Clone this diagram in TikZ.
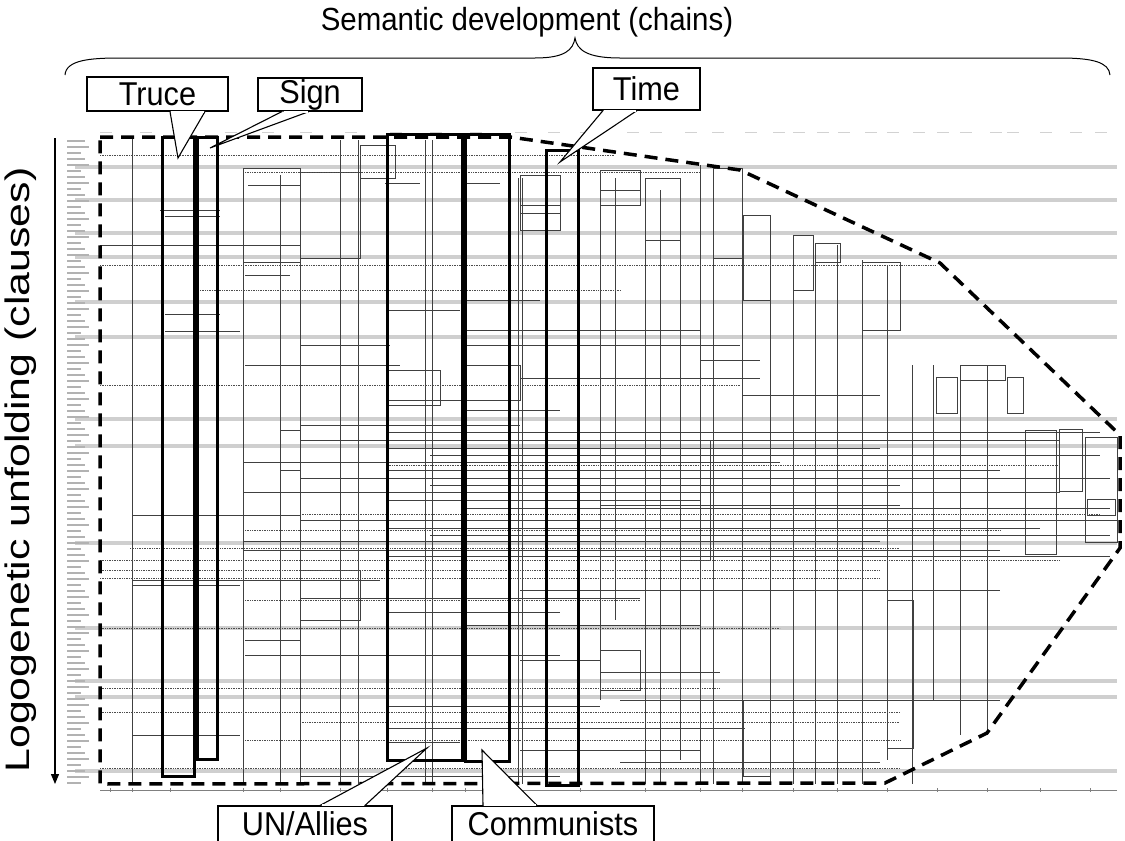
\documentclass[tikz,border=0pt]{standalone}
\usepackage{fontspec}
\setmainfont{Liberation Sans}
\usetikzlibrary{arrows.meta}

\begin{document}
\begin{tikzpicture}[x=1pt, y=-1pt]
  \tikzstyle{band}=[gray!38, line width=4.5pt]
  \tikzstyle{rowtag}=[gray!60, line width=1.3pt]
  \tikzstyle{headtag}=[gray!35, line width=1pt]
  \tikzstyle{chainline}=[black!75, line width=0.5pt]
  \tikzstyle{link}=[black!70, line width=0.7pt, densely dotted]
  \tikzstyle{focusbox}=[line width=3pt]
  \tikzstyle{hull}=[line width=3.5pt, dash pattern=on 13pt off 8pt]
  \tikzstyle{tag}=[draw, line width=1.1pt, fill=white, inner sep=0pt,
    font=\fontsize{33}{38}\selectfont]
  \tikzstyle{pointer}=[fill=white, line width=1.1pt, line join=miter]
  \useasboundingbox (0,0) rectangle (1125,841);

  % the chain chart
  \foreach \y in {167,200,233,257,302,337,419,446,543,628,681,697,771}
    \draw[band] (75,\y) -- (1117,\y);
  \foreach \y [count=\i] in {141,147,...,783}
    \draw[rowtag] (67,\y) -- +({14+mod(\i,3)*4},0);
  \foreach \x in {100,140,180,225,262,300,345,390,430,470,515,548,580,
      627,650,685,712,745,773,793,817,838,865,887,913,937,960,990,1007,1040,1070,1095}
    \draw[headtag] (\x,132) -- +(12,0);
  \foreach \x/\t/\b in {132/137/784, 243/168/784, 280/175/784, 300/245/784,
      340/140/784, 358/140/784, 425/140/784, 432/140/784, 518/178/784,
      522/178/784, 600/170/700, 615/178/620, 645/178/784, 660/190/784,
      680/195/760, 700/165/784, 713/168/784, 742/170/784, 770/235/784,
      793/235/784, 815/245/784, 837/245/784, 862/260/784, 887/265/760,
      912/365/784, 933/365/700, 960/365/735, 987/365/735}
    \draw[chainline] (\x,\t) -- (\x,\b);
  \foreach \xa/\ya/\xb/\yb in {243/168/300/262, 300/172/360/258, 360/145/395/178,
      300/570/360/620, 387/370/440/405, 465/365/520/400, 520/175/560/230,
      600/170/640/205, 645/178/680/240, 713/168/742/258, 743/215/770/300,
      793/235/813/290, 815/243/840/262, 862/262/900/330, 936/377/957/413,
      960/365/1005/380, 1007/377/1023/413, 1025/430/1056/554, 1059/429/1082/491,
      1085/437/1117/542, 1087/499/1115/515, 680/440/710/560, 887/600/913/748,
      743/700/770/776, 280/430/300/470, 600/650/640/690}
    \draw[chainline] (\xa,\ya) rectangle (\xb,\yb);
  \foreach \xa/\xb/\y in {248/300/185, 385/420/183, 465/500/183, 160/220/210,
      165/220/216, 520/560/205, 520/560/213, 600/640/190, 100/300/245,
      245/290/275, 465/540/300, 387/460/310, 165/220/314, 165/240/331,
      300/390/345, 245/400/365, 465/700/330, 465/740/345, 700/760/360,
      743/880/395, 387/520/400, 465/560/410, 387/1100/432, 300/1060/440,
      387/880/448, 430/1100/455, 243/780/462, 387/1000/470, 300/1110/478,
      430/900/485, 243/1060/492, 387/700/500, 465/1110/508, 132/300/515,
      300/960/520, 387/1040/528, 430/1110/535, 243/880/541, 243/1000/550,
      387/1110/556, 132/240/585, 300/640/598, 387/560/612, 465/700/625,
      245/300/640, 520/600/660, 600/720/672, 387/600/706, 132/240/735,
      387/460/742, 520/700/750, 620/880/762, 300/560/776, 960/1117/520,
      520/760/378, 300/520/425, 600/900/505, 132/380/580, 520/1000/590,
      245/560/655, 620/1000/700, 387/745/728}
    \draw[chainline] (\xa,\y) -- (\xb,\y);
  \foreach \xa/\xb/\y in {100/615/155, 245/700/172, 100/935/265, 200/620/290,
      100/740/385, 100/1060/560, 100/880/570, 130/900/548, 100/780/628,
      100/720/688, 100/900/712, 300/900/722, 100/900/768, 245/640/600,
      387/1060/465, 300/1100/514, 245/1000/530, 100/880/578, 245/900/740}
    \draw[link] (\xa,\y) -- (\xb,\y);
  \draw[chainline, gray] (100,790) -- (1117,790);
  \foreach \x in {110,132,170,243,280,340,387,432,465,518,580,645,700,742,
      793,837,887,937,987,1040,1090}
    \draw[chainline, gray] (\x,788) -- (\x,792);

  % highlighted chains
  \draw[focusbox] (162,137) rectangle (194,776);
  \draw[focusbox] (197,137) rectangle (217,759);
  \draw[focusbox] (387,134) rectangle (462,760);
  \draw[focusbox] (465,134) rectangle (509,761);
  \draw[focusbox] (546,150) rectangle (578,785);
  \draw[hull] (100,137) -- (510,137) -- (740,170) -- (940,263) -- (1120,435)
    -- (1120,548) -- (987,733) -- (885,783) -- (100,784) -- cycle;

  % axes
  \node (title) at (527,22) {\fontsize{32}{38}\selectfont\scalebox{0.92}[1]{Semantic development (chains)}};
  \draw[line width=1pt] (65,75) .. controls (66,60) and (90,58) .. (120,58)
    -- (535,58) .. controls (565,58) and (573,50) .. (575,38)
    .. controls (577,50) and (587,58) .. (620,58) -- (1060,58)
    .. controls (1092,58) and (1109,62) .. (1110,75);
  \node[rotate=90] (unfold) at (21,470) {\fontsize{34}{40}\selectfont\scalebox{1.26}[1]{Logogenetic unfolding (clauses)}};
  \coordinate (top) at (55,138);
  \coordinate (bottom) at (55,784);
  \draw[-{Triangle[length=10pt,width=8pt]}, line width=1.2pt] (top) -- (bottom);

  % callouts
  \node[tag, minimum width=141pt, minimum height=34pt] (truce) at (157.5,94) {\scalebox{0.93}[1]{Truce}};
  \node[tag, minimum width=104pt, minimum height=33pt] (sign) at (310,94.5) {\scalebox{0.93}[1]{Sign}};
  \node[tag, minimum width=107pt, minimum height=42pt] (time) at (646.5,89) {\scalebox{0.93}[1]{Time}};
  \node[tag, minimum width=174pt, minimum height=36pt] (allies) at (305,824) {\scalebox{0.93}[1]{UN/Allies}};
  \node[tag, minimum width=202pt, minimum height=36pt] (communists) at (553,824) {\scalebox{0.93}[1]{Communists}};
  \coordinate (truceTip) at (178,158);
  \coordinate (signTip) at (210,148);
  \coordinate (timeTip) at (560,162);
  \coordinate (alliesTip) at (427,748);
  \coordinate (commTip) at (482,750);
  \filldraw[pointer] ([xshift=12.5pt]truce.south) -- (truceTip) -- ([xshift=47.5pt]truce.south);
  \draw[white, line width=1.6pt] ([xshift=13.5pt,yshift=-0.3pt]truce.south) -- ([xshift=46.5pt,yshift=-0.3pt]truce.south);
  \filldraw[pointer] ([xshift=-28pt]sign.south) -- (signTip) -- ([xshift=-1pt]sign.south);
  \draw[white, line width=1.6pt] ([xshift=-26.5pt,yshift=-0.3pt]sign.south) -- ([xshift=-2pt,yshift=-0.3pt]sign.south);
  \filldraw[pointer] ([xshift=-43.5pt]time.south) -- (timeTip) -- ([xshift=-9.5pt]time.south);
  \draw[white, line width=1.6pt] ([xshift=-42.5pt,yshift=-0.3pt]time.south) -- ([xshift=-10.5pt,yshift=-0.3pt]time.south);
  \filldraw[pointer] ([xshift=15pt]allies.north) -- (alliesTip) -- ([xshift=60pt]allies.north);
  \draw[white, line width=1.6pt] ([xshift=16.5pt,yshift=0.3pt]allies.north) -- ([xshift=59pt,yshift=0.3pt]allies.north);
  \filldraw[pointer] ([xshift=-70pt]communists.north) -- (commTip) -- ([xshift=-16pt]communists.north);
  \draw[white, line width=1.6pt] ([xshift=-69pt,yshift=0.3pt]communists.north) -- ([xshift=-17.5pt,yshift=0.3pt]communists.north);
\end{tikzpicture}
\end{document}
